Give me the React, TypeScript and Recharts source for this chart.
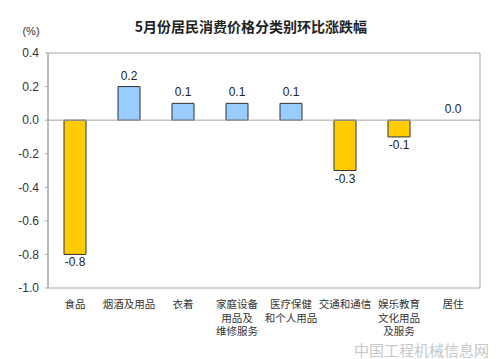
import { ComposedChart, Bar, Line, XAxis, YAxis, CartesianGrid, ReferenceLine, LabelList, Cell } from 'recharts';

const categories = [
  '食品',
  '烟酒及用品',
  '衣着',
  '家庭设备\n用品及\n维修服务',
  '医疗保健\n和个人用品',
  '交通和通信',
  '娱乐教育\n文化用品\n及服务',
  '居住',
];
const changes = [-0.8, 0.2, 0.1, 0.1, 0.1, -0.3, -0.1, 0.0];
const yTicks = [-1.0, -0.8, -0.6, -0.4, -0.2, 0.0, 0.2, 0.4];

const data = categories.map((name, i) => ({ name, value: changes[i] }));

const UP = '#99ccff';
const DOWN = '#ffcc00';
const CJK = '"Noto Sans CJK SC", sans-serif';
const LATIN = '"Liberation Sans", Arial, sans-serif';

function CategoryTick(props: any) {
  const { x, y, payload } = props;
  const lines = String(payload.value).split('\n');
  return (
    <g>
      {lines.map((line: string, i: number) => (
        <text
          key={i}
          x={x}
          y={y + 12 + i * 13.5}
          textAnchor="middle"
          fontSize={10.5}
          fontFamily={CJK}
          fill="#333"
        >
          {line}
        </text>
      ))}
    </g>
  );
}

// label sits at the point (bar end): above for >= 0, below for < 0
function ValueLabel(props: any) {
  const { x, y, value } = props;
  return (
    <text
      x={x}
      y={value < 0 ? y + 12 : y - 7}
      textAnchor="middle"
      fontSize={12}
      fontFamily={LATIN}
      fill="#222"
    >
      {Number(value).toFixed(1)}
    </text>
  );
}

export default function App() {
  return (
    <div style={{ position: 'absolute', left: 0, top: 0, width: 500, height: 359, background: '#fff' }}>
      <ComposedChart
        width={500}
        height={359}
        data={data}
        margin={{ top: 53, right: 20, left: 8, bottom: 0 }}
      >
        <text x={251} y={32} textAnchor="middle" fontSize={14} fontWeight="bold" fontFamily={CJK} fill="#222">
          5月份居民消费价格分类别环比涨跌幅
        </text>
        <text x={31} y={35} textAnchor="middle" fontSize={11} fontFamily={LATIN} fill="#333">
          (%)
        </text>
        <CartesianGrid
          stroke="#a6a6a6"
          fill="none"
          horizontalCoordinatesGenerator={({ offset }: any) => [offset.top, offset.top + offset.height]}
          verticalCoordinatesGenerator={({ offset }: any) => [offset.left, offset.left + offset.width]}
        />
        <XAxis
          dataKey="name"
          axisLine={false}
          tickLine={false}
          interval={0}
          height={71}
          tick={<CategoryTick />}
        />
        <YAxis
          domain={[-1, 0.4]}
          ticks={yTicks}
          width={40}
          axisLine={{ stroke: '#a6a6a6' }}
          tickLine={{ stroke: '#a6a6a6' }}
          tickSize={3}
          tickMargin={6}
          tickFormatter={(v: number) => v.toFixed(1)}
          tick={{ fontSize: 12, fontFamily: LATIN, fill: '#333' }}
        />
        <ReferenceLine y={0} stroke="#a6a6a6" />
        <Bar dataKey="value" barSize={22} stroke="#333" strokeWidth={1} isAnimationActive={false}>
          {data.map((d, i) => (
            <Cell key={`cell-${i}`} fill={d.value < 0 ? DOWN : UP} />
          ))}
        </Bar>
        <Line dataKey="value" stroke="none" dot={false} activeDot={false} isAnimationActive={false}>
          <LabelList dataKey="value" content={<ValueLabel />} />
        </Line>
      </ComposedChart>
      <div
        style={{
          position: 'absolute',
          left: 354,
          top: 342,
          fontFamily: CJK,
          fontSize: 15,
          lineHeight: '16px',
          color: '#c8c8c8',
          whiteSpace: 'nowrap',
        }}
      >
        中国工程机械信息网
      </div>
    </div>
  );
}
